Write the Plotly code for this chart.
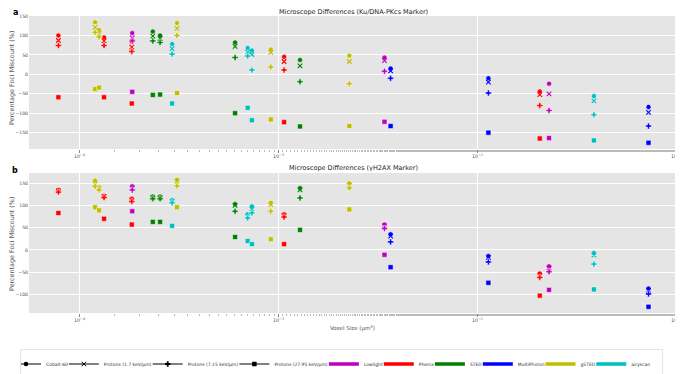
import plotly.graph_objects as go

# ---------------- data ----------------
voxel_size = [7.83e-5, 1.197e-4, 1.254e-4, 1.328e-4, 1.84e-4, 1.83e-4, 2.335e-4, 2.54e-4,
              2.92e-4, 3.09e-4, 6.05e-4, 7.0e-4, 7.35e-4, 9.15e-4, 1.067e-3, 1.283e-3,
              2.27e-3, 3.41e-3, 3.66e-3, 1.135e-2, 2.057e-2, 2.29e-2, 3.85e-2, 7.24e-2]
microscope = ["Phenix", "gSTED", "gSTED", "Phenix", "Lowlight", "Phenix", "STED", "STED",
              "airyscan", "gSTED", "STED", "airyscan", "airyscan", "gSTED", "Phenix", "STED",
              "gSTED", "Lowlight", "MultiPhoton", "MultiPhoton", "Phenix", "Lowlight", "airyscan", "MultiPhoton"]

# Ku/DNA-PKcs marker (panel a)
ku_cobalt = [100, 134, 114, 95, 106, 84, 110, 100, 78, 132, 82, 68, 61, 64, 45, 37, 48, 43, 15, -10, -44, -24, -56, -84]
ku_p17 = [87, 121, 105, 86, 94, 70, 98, 92, 66, 118, 72, 57, 51, 56, 33, 22, 33, 35, 9, -20, -52, -50, -68, -98]
ku_p715 = [74, 108, 96, 74, 86, 59, 86, 82, 52, 100, 43, 47, 11, 19, 11, -19, -24, 8, -10, -48, -80, -93, -104, -133]
ku_p2795 = [-59, -38, -34, -59, -45, -75, -53, -52, -75, -48, -100, -86, -118, -116, -123, -134, -133, -122, -133, -150, -165, -164, -170, -176]

# gammaH2AX marker (panel b)
h2_cobalt = [135, 156, 141, 122, 143, 115, 120, 120, 112, 158, 103, 80, 98, 106, 80, 139, 150, 57, 35, -14, -53, -37, -7, -87]
h2_p17 = [133, 148, 138, 120, 139, 112, 117, 117, 109, 154, 100, 76, 92, 102, 77, 135, 145, 54, 31, -17, -58, -41, -12, -91]
h2_p715 = [130, 143, 135, 118, 135, 109, 115, 115, 106, 144, 87, 72, 83, 87, 74, 117, 139, 48, 18, -27, -62, -49, -32, -99]
h2_p2795 = [83, 96, 89, 70, 87, 57, 63, 63, 54, 96, 29, 20, 13, 24, 13, 45, 91, -11, -39, -74, -103, -90, -89, -128]

radiation = ["Cobalt-60", "Protons (1.7 keV/μm)", "Protons (7.15 keV/μm)", "Protons (27.95 keV/μm)"]
scopes = ["Lowlight", "Phenix", "STED", "MultiPhoton", "gSTED", "airyscan"]

# ---------------- style ----------------
scope_color = {"Lowlight": "#bf00bf", "Phenix": "#ff0000", "STED": "#008000",
               "MultiPhoton": "#0000ff", "gSTED": "#bfbf00", "airyscan": "#00bfbf"}
rad_symbol = {"Cobalt-60": "circle", "Protons (1.7 keV/μm)": "x-thin",
              "Protons (7.15 keV/μm)": "cross", "Protons (27.95 keV/μm)": "square"}
# approximate legend entry text widths (em) used to size legend entries
LEG_FONT = 4.5
char_w = {"Cobalt-60": 4.86, "Protons (1.7 keV/μm)": 10.63, "Protons (7.15 keV/μm)": 11.26,
          "Protons (27.95 keV/μm)": 11.89, "Lowlight": 4.2, "Phenix": 3.36, "STED": 2.65,
          "MultiPhoton": 5.93, "gSTED": 3.28, "airyscan": 4.21}

FONT = "DejaVu Sans"
fig = go.Figure()

panels = [
    ("x", "y", [ku_cobalt, ku_p17, ku_p715, ku_p2795]),
    ("x2", "y2", [h2_cobalt, h2_p17, h2_p715, h2_p2795]),
]
for xa, ya, series in panels:
    for rad, vals in zip(radiation, series):
        for sc in scopes:
            xs = [v for v, m in zip(voxel_size, microscope) if m == sc]
            ys = [y for y, m in zip(vals, microscope) if m == sc]
            sym = rad_symbol[rad]
            if sym == "x-thin":
                mk = dict(symbol=sym, size=4.5, color=scope_color[sc],
                          line=dict(color=scope_color[sc], width=1.1))
            else:
                mk = dict(symbol=sym, size=5, color=scope_color[sc],
                          line=dict(color="white", width=0.5))
            fig.add_trace(go.Scatter(x=xs, y=ys, mode="markers", marker=mk,
                                     xaxis=xa, yaxis=ya, showlegend=False,
                                     hoverinfo="skip"))

# legend entries
for rad in radiation:
    sym = rad_symbol[rad]
    if sym == "x-thin":
        mk = dict(symbol=sym, size=4.5, color="black", line=dict(color="black", width=1))
    else:
        mk = dict(symbol=sym, size=4.5, color="black")
    fig.add_trace(go.Scatter(x=[None], y=[None], mode="lines+markers", name=rad,
                             line=dict(color="black", width=1), marker=mk,
                             legendwidth=char_w[rad] * LEG_FONT + 6))
for sc in scopes:
    fig.add_trace(go.Scatter(x=[None], y=[None], mode="lines", name=sc,
                             line=dict(color=scope_color[sc], width=3.5),
                             legendwidth=char_w[sc] * LEG_FONT + 6))

# ---------------- layout (page body adds an 8px offset) ----------------
W, H = 675, 366
L, R, T, B = 21, 5, 8, 61
pw, ph = W - L - R, H - T - B
top_dom = [(305 - 141) / ph, 1.0]
bot_dom = [0.0, (305 - 165) / ph]


def px(x):
    return (x - L) / pw


def py(y):
    return (H - B - y) / ph


xaxis_common = dict(showgrid=True, gridcolor="white", gridwidth=0.8, zeroline=False,
                    showline=False, ticks="outside", ticklen=2.5, tickcolor="#888",
                    automargin=False, type="log", range=[-4.254, -0.992],
                    tickvals=[1e-4, 1e-3, 1e-2, 1e-1],
                    ticktext=["10<sup>−4</sup>", "10<sup>−3</sup>", "10<sup>−2</sup>", "10<sup>−1</sup>"],
                    minor=dict(ticks="outside", ticklen=1.5, tickcolor="#bbb", showgrid=False),
                    tickfont=dict(family=FONT, size=4.8, color="#555"))
yaxis_common = dict(showgrid=True, gridcolor="white", gridwidth=0.8, zeroline=False,
                    showline=False, ticks="", automargin=False, dtick=50,
                    tickfont=dict(family=FONT, size=4.6, color="#555"))

ylab_font = dict(family=FONT, size=6.4, color="#555")
title_font = dict(family=FONT, size=6.5, color="#222")

fig.update_layout(
    width=W, height=H,
    margin=dict(l=L, r=R, t=T, b=B, autoexpand=False),
    paper_bgcolor="white", plot_bgcolor="#E5E5E5",
    font=dict(family=FONT, size=6, color="#333"),
    xaxis=dict(anchor="y", domain=[0, 1], **xaxis_common),
    yaxis=dict(range=[-192, 150], domain=top_dom, anchor="x", **yaxis_common),
    xaxis2=dict(anchor="y2", domain=[0, 1], **xaxis_common),
    yaxis2=dict(range=[-142, 173], domain=bot_dom, anchor="x2", **yaxis_common),
    legend=dict(orientation="h", x=px(333.5), xanchor="center",
                y=py(371), yanchor="bottom",
                font=dict(family=FONT, size=LEG_FONT, color="#333"),
                bgcolor="white", bordercolor="#ccc", borderwidth=0.5,
                itemwidth=30, indentation=-15, tracegroupgap=0),
    annotations=[
        dict(text="Microscope Differences (Ku/DNA-PKcs Marker)", x=px(345), y=py(3.8),
             xref="paper", yref="paper", xanchor="center", yanchor="middle",
             showarrow=False, font=title_font),
        dict(text="Microscope Differences (γH2AX Marker)", x=px(345), y=py(160),
             xref="paper", yref="paper", xanchor="center", yanchor="middle",
             showarrow=False, font=title_font),
        dict(text="<b>a</b>", x=px(7), y=py(4), xref="paper", yref="paper",
             xanchor="center", yanchor="middle", showarrow=False,
             font=dict(family=FONT, size=8, color="black")),
        dict(text="<b>b</b>", x=px(7), y=py(162), xref="paper", yref="paper",
             xanchor="center", yanchor="middle", showarrow=False,
             font=dict(family=FONT, size=8, color="black")),
        dict(text="Percentage Foci Miscount (%)", textangle=-90, x=px(4), y=py(70),
             xref="paper", yref="paper", xanchor="center", yanchor="middle",
             showarrow=False, font=ylab_font),
        dict(text="Percentage Foci Miscount (%)", textangle=-90, x=px(4), y=py(236),
             xref="paper", yref="paper", xanchor="center", yanchor="middle",
             showarrow=False, font=ylab_font),
        dict(text="Voxel Size (μm<sup>3</sup>)", x=px(344), y=py(320),
             xref="paper", yref="paper", xanchor="center", yanchor="middle",
             showarrow=False, font=dict(family=FONT, size=5.5, color="#555")),
    ],
)

fig.write_html("out.html")
